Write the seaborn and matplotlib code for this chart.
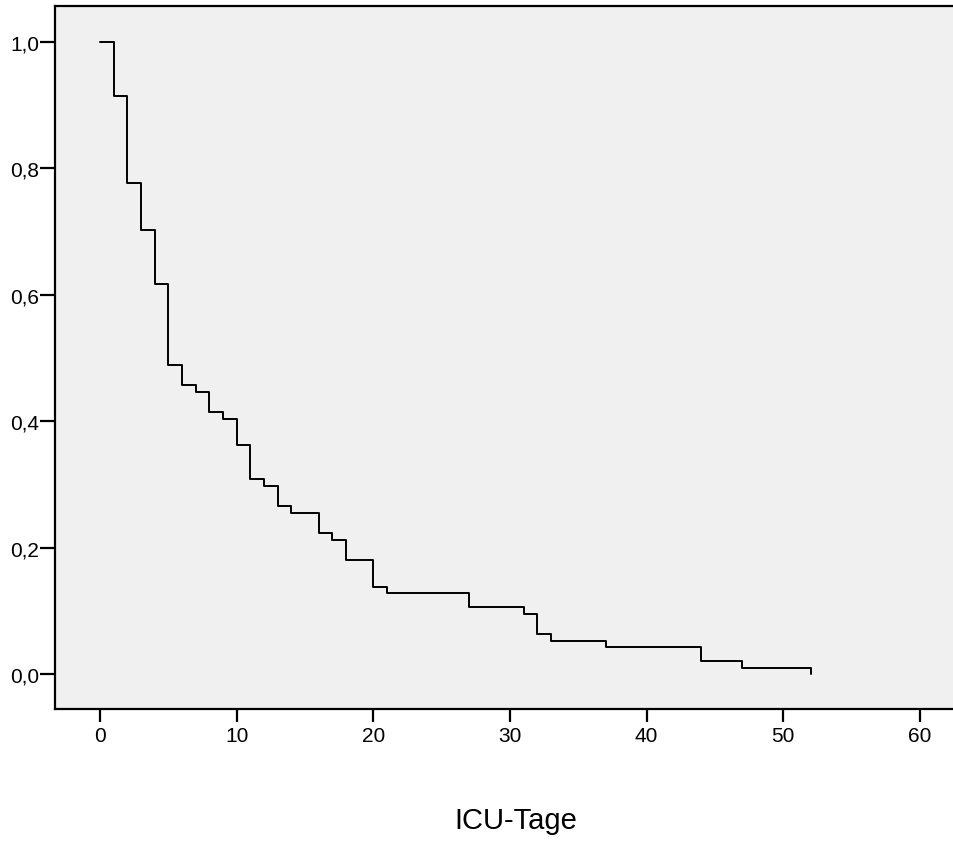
import matplotlib
matplotlib.use("Agg")
import matplotlib.pyplot as plt
import seaborn as sns
import pandas as pd

# Kaplan-Meier style survival
days = [0, 1, 2, 3, 4, 5, 6, 7, 8, 9, 10, 11, 12, 13, 14, 16, 17, 18, 20, 21,
        27, 31, 32, 33, 37, 44, 47, 52]
survival = [1.0, 0.9149, 0.7766, 0.7021, 0.6170, 0.4894, 0.4574, 0.4468, 0.4149,
            0.4043, 0.3617, 0.3085, 0.2979, 0.2660, 0.2553, 0.2234, 0.2128, 0.1809,
            0.1383, 0.1277, 0.1064, 0.0957, 0.0638, 0.0532, 0.0426, 0.0213, 0.0106,
            0.0]

x_ticks = [0, 10, 20, 30, 40, 50, 60]
y_ticks = [0.0, 0.2, 0.4, 0.6, 0.8, 1.0]
y_tick_labels = ["0,0", "0,2", "0,4", "0,6", "0,8", "1,0"]
x_label = "ICU-Tage"

df = pd.DataFrame({"days": days, "survival": survival})

sns.set_style("ticks")
plt.rcParams["font.family"] = ["Liberation Sans", "DejaVu Sans"]

fig = plt.figure(figsize=(9.54, 8.45), dpi=100)
ax = fig.add_axes([55 / 954, (845 - 710) / 845, 1 - 55 / 954, (710 - 7) / 845])
ax.set_facecolor("#F0F0F0")

sns.lineplot(data=df, x="days", y="survival", ax=ax, color="black",
             linewidth=1.4, drawstyle="steps-post", estimator=None)

ax.set_xlim(-3.29, 62.5)
ax.set_ylim(-0.055, 1.0565)
ax.set_xticks(x_ticks)
ax.set_xticklabels([str(t) for t in x_ticks])
ax.set_yticks(y_ticks)
ax.set_yticklabels(y_tick_labels)
ax.tick_params(axis="x", direction="out", length=9.4, width=1.6,
               labelsize=15, colors="black", pad=3)
ax.tick_params(axis="y", direction="out", length=10.8, width=1.6,
               labelsize=15, colors="black", pad=0.8)
ax.set_xlabel("")
ax.set_ylabel("")

for side in ["left", "bottom", "top"]:
    ax.spines[side].set_visible(True)
    ax.spines[side].set_color("black")
    ax.spines[side].set_linewidth(1.6)
ax.spines["right"].set_visible(False)

fig.text(515.5 / 954, 1 - 821 / 845, x_label, ha="center", va="center",
         fontsize=21, color="black")

fig.savefig("out.png", dpi=100, facecolor="white")
